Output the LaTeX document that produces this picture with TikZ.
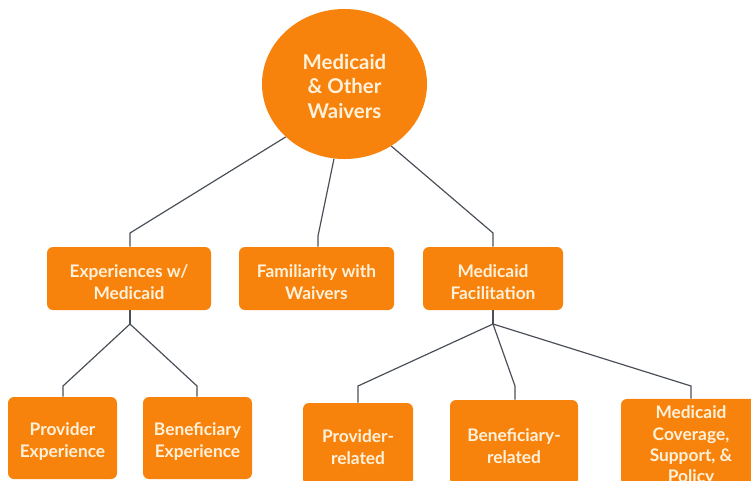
\documentclass[tikz,border=0pt]{standalone}
\usepackage{fontspec}
\setmainfont{Lato}
\usetikzlibrary{shapes.geometric}
\definecolor{orng}{HTML}{F8830C}
\definecolor{cream}{HTML}{FFF1DA}
\definecolor{linec}{HTML}{4B5058}
\newcommand{\topgap}{\rule{0pt}{15pt}}
\tikzset{
  hub/.style={ellipse, fill=orng, text=cream, align=center, inner sep=0pt,
    font=\fontsize{15.3pt}{18.4pt}\selectfont\bfseries},
  box/.style={rectangle, rounded corners=4.5pt, fill=orng, text=cream, align=center, inner sep=0pt,
    font=\fontsize{13pt}{16.5pt}\selectfont\bfseries},
  link/.style={draw=linec, line width=0.9pt}
}
\begin{document}
\begin{tikzpicture}[x=0.75pt,y=-0.75pt]
\useasboundingbox (0,0) rectangle (751,480);
\clip (0,0) rectangle (751,480);
% root
\node[hub, minimum width=123.75pt, minimum height=112.5pt] (root) at (344.5,84) {\topgap Medicaid\\\& Other\\Waivers};
% first row
\node[box, minimum width=123pt, minimum height=47.25pt] (b1) at (129,278.5) {\topgap Experiences w/\\Medicaid};
\node[box, minimum width=116.25pt, minimum height=47.25pt] (b2) at (316.5,278.5) {\topgap Familiarity with\\Waivers};
\node[box, minimum width=105pt, minimum height=47.25pt] (b3) at (493,278.5) {\topgap Medicaid\\Facilitation};
% second row
\node[box, minimum width=81.75pt, minimum height=61.5pt] (p1) at (62.5,438) {\topgap Provider\\Experience};
\node[box, minimum width=81.75pt, minimum height=61.5pt] (p2) at (197.5,438) {\topgap Beneficiary\\Experience};
\node[box, minimum width=82.5pt, minimum height=61.5pt] (p3) at (358,444) {\topgap Provider-\\related};
\node[box, minimum width=96pt, minimum height=63.75pt] (p4) at (514,442.5) {\topgap Beneficiary-\\related};
\node[box, minimum width=105pt, minimum height=64.5pt, font=\fontsize{13pt}{15.8pt}\selectfont\bfseries] (p5) at (691,442) {\topgap Medicaid\\Coverage,\\Support, \&\\Policy};
% connectors from root
\coordinate (c1) at (130,233);
\coordinate (c2) at (318,236);
\coordinate (c3) at (493,233);
\draw[link] (root.222.2) -- (c1) -- (c1 |- b1.north);
\draw[link] (root.262.1) -- (c2) -- (c2 |- b2.north);
\draw[link] (root.307.6) -- (c3) -- (c3 |- b3.north);
% connectors from first row
\coordinate (j1) at (130,324);
\coordinate (j2) at (493,324);
\coordinate (d1) at (63,386);
\coordinate (d2) at (197,386);
\coordinate (d3) at (358,386);
\coordinate (d4) at (515,386);
\coordinate (d5) at (691,386);
\draw[link] (j1 |- b1.south) -- (j1);
\draw[link] (j1) -- (d1) -- (d1 |- p1.north);
\draw[link] (j1) -- (d2) -- (d2 |- p2.north);
\draw[link] (j2 |- b3.south) -- (j2);
\draw[link] (j2) -- (d3) -- (d3 |- p3.north);
\draw[link] (j2) -- (d4) -- (d4 |- p4.north);
\draw[link] (j2) -- (d5) -- (d5 |- p5.north);
\end{tikzpicture}
\end{document}
